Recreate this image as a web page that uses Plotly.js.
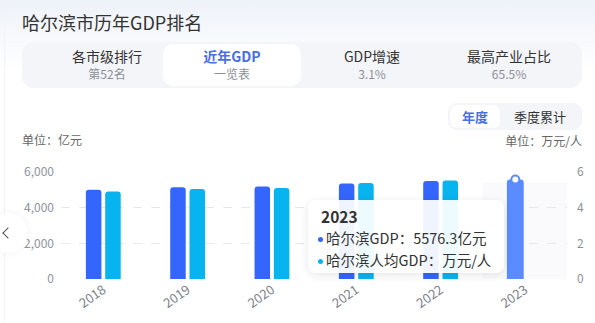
<!DOCTYPE html>
<html>
<head>
<meta charset="utf-8">
<script src="https://cdn.plot.ly/plotly-3.0.1.min.js"></script>
<style>
  html, body { margin:0; padding:0; }
  body { width:595px; height:323px; overflow:hidden; position:relative; background:#fff;
         font-family:"Noto Sans CJK SC","Noto Sans",sans-serif; }
  .abs { position:absolute; }
  #topgrad { left:0; top:0; width:595px; height:70px; background:linear-gradient(#eef2f9,#ffffff); }
  #edge { left:4px; top:0; width:1px; height:323px; background:#f2f3f6; }
  #chart { left:0; top:0; width:595px; height:323px; }
  #title { left:22px; top:9px; font-size:18px; color:#333; line-height:26px; }
  #tabs { left:22px; top:42px; width:560px; height:46px; background:#f4f5f9; border-radius:12px; }
  #tabActive { left:163px; top:44px; width:138px; height:42px; background:#fff; border-radius:10px; }
  .tab { top:47px; width:140px; text-align:center; }
  .tab .m { font-size:14px; color:#333; line-height:19px; }
  .tab .s { font-size:12px; color:#8c8f99; line-height:16px; }
  .tab.on .m { color:#4a6fe0; font-weight:bold; }
  #toggle { left:448px; top:103px; width:134px; height:27px; background:#f4f5f9; border-radius:9px; }
  #toggleOn { left:450px; top:105px; width:50px; height:23px; background:#fff; border-radius:7px; }
  .tg { top:104px; height:25px; line-height:25px; font-size:13px; color:#333; text-align:center; }
  #unitL { left:22px; top:131px; font-size:12px; color:#666; line-height:18px; }
  #unitR { right:13px; top:132px; font-size:12px; color:#666; line-height:18px; }
  #arrow { left:-12px; top:213px; width:40px; height:40px; border-radius:50%; background:#fff;
           box-shadow:0 0 8px rgba(0,0,0,0.05); }
  #chev { left:4px; top:229px; width:7px; height:7px; border-left:1.4px solid #555; border-bottom:1.4px solid #555;
          transform:rotate(45deg); }
  #tip { left:308px; top:200px; width:196px; height:73px; background:rgba(255,255,255,0.93);
         border-radius:8px; box-shadow:0 2px 10px rgba(0,0,0,0.10); }
  #tipYear { left:321px; top:205px; font-size:15.5px; font-weight:bold; color:#333; line-height:22px; }
  .tipLine { left:318px; font-size:14.5px; color:#333; line-height:20px; white-space:nowrap; }
  .dot { display:inline-block; width:5px; height:5px; border-radius:50%; margin-right:3px; vertical-align:middle; position:relative; top:-1px; }
</style>
</head>
<body>
<div id="topgrad" class="abs"></div>
<div id="edge" class="abs"></div>
<div id="chart" class="abs"></div>

<div id="title" class="abs">哈尔滨市历年GDP排名</div>
<div id="tabs" class="abs"></div>
<div id="tabActive" class="abs"></div>
<div class="abs tab" style="left:37px"><div class="m">各市级排行</div><div class="s">第52名</div></div>
<div class="abs tab on" style="left:162px"><div class="m">近年GDP</div><div class="s">一览表</div></div>
<div class="abs tab" style="left:302px"><div class="m">GDP增速</div><div class="s">3.1%</div></div>
<div class="abs tab" style="left:439px"><div class="m">最高产业占比</div><div class="s">65.5%</div></div>

<div id="toggle" class="abs"></div>
<div id="toggleOn" class="abs"></div>
<div class="abs tg" style="left:450px;width:50px;color:#4a6fe0;font-weight:bold;">年度</div>
<div class="abs tg" style="left:505px;width:70px;">季度累计</div>

<div id="unitL" class="abs">单位：亿元</div>
<div id="unitR" class="abs">单位：万元/人</div>

<div id="arrow" class="abs"></div>
<div id="chev" class="abs"></div>

<div id="tip" class="abs"></div>
<div id="tipYear" class="abs"></div>
<div id="tip1" class="abs tipLine" style="top:228px"></div>
<div id="tip2" class="abs tipLine" style="top:250px"></div>

<script>
// ---- data ----
var years = ['2018', '2019', '2020', '2021', '2022', '2023'];
var gdp = [5000, 5140, 5180, 5350, 5490, 5576.3];          // 亿元
var perCapita = [4.9, 5.05, 5.1, 5.38, 5.53, null];       // 万元/人
var seriesNames = ['哈尔滨GDP', '哈尔滨人均GDP'];
var gdpTicks = [0, 2000, 4000, 6000];
var pcTicks = [0, 2, 4, 6];
var hoverIndex = 5;

// ---- styles ----
var BLUE = '#3465fc', CYAN = '#08b4ef', HILITE = '#5b8cff';
var barW = 0.184, blueOff = -0.205, cyanOff = 0.024;
var xs = years.map(function (_, i) { return i; });

var blueColors = xs.map(function (i) { return i === hoverIndex ? HILITE : BLUE; });
var blueWidths = xs.map(function (i) { return i === hoverIndex ? 0.2 : barW; });
var blueOffsets = xs.map(function (i) { return i === hoverIndex ? blueOff - 0.008 : blueOff; });

var traces = [
  { type: 'bar', name: seriesNames[0], x: xs, y: gdp, yaxis: 'y',
    width: blueWidths, offset: blueOffsets, marker: { color: blueColors } },
  { type: 'bar', name: seriesNames[1], x: xs, y: perCapita, yaxis: 'y2',
    width: barW, offset: cyanOff, marker: { color: CYAN } },
  { type: 'scatter', mode: 'markers', x: [hoverIndex + blueOff + barW / 2], y: [gdp[hoverIndex]],
    yaxis: 'y', cliponaxis: false,
    marker: { size: 8, color: '#ffffff', line: { color: HILITE, width: 2 } } }
];

var tickFont = { family: 'Noto Sans CJK SC, Noto Sans, sans-serif', size: 12, color: '#8f929c' };
var xTickFont = { family: 'Noto Sans CJK SC, Noto Sans, sans-serif', size: 13, color: '#7d808a' };

var layout = {
  width: 595, height: 323,
  margin: { l: 61, r: 28, t: 172, b: 44, pad: 0 },
  paper_bgcolor: 'rgba(0,0,0,0)', plot_bgcolor: 'rgba(0,0,0,0)',
  showlegend: false, barmode: 'overlay', barcornerradius: 3,
  xaxis: { range: [-0.5, years.length - 0.5], tickvals: xs, ticktext: years, tickangle: -35,
           showgrid: false, zeroline: false, showline: false, ticks: '', tickfont: xTickFont,
           fixedrange: true },
  yaxis: { range: [0, 6000], tickvals: gdpTicks, tickformat: ',d', showgrid: true,
           gridcolor: '#e6e8ee', griddash: 'dash', gridwidth: 1, zeroline: false, showline: false,
           ticks: '', tickfont: tickFont, ticklabelstandoff: 6 },
  yaxis2: { range: [0, 6], tickvals: pcTicks, overlaying: 'y', side: 'right', showgrid: false,
            zeroline: false, showline: false, ticks: '', tickfont: tickFont, ticklabelstandoff: 9 },
  shapes: [
    { type: 'rect', layer: 'below', xref: 'x', yref: 'paper',
      x0: hoverIndex - 0.5, x1: hoverIndex + 0.5, y0: 0, y1: 0.9,
      fillcolor: 'rgba(246,247,251,0.6)', line: { width: 0 } }
  ]
};

Plotly.newPlot('chart', traces, layout, { staticPlot: true, displayModeBar: false });

// tooltip content from data
document.getElementById('tipYear').textContent = years[hoverIndex];
function fmt(v) { return v === null || v === undefined ? '' : String(v); }
document.getElementById('tip1').innerHTML = '<span class="dot" style="background:' + BLUE + '"></span>' +
  seriesNames[0] + '：' + fmt(gdp[hoverIndex]) + '亿元';
document.getElementById('tip2').innerHTML = '<span class="dot" style="background:' + CYAN + '"></span>' +
  seriesNames[1] + '：' + fmt(perCapita[hoverIndex]) + '万元/人';
</script>
</body>
</html>
